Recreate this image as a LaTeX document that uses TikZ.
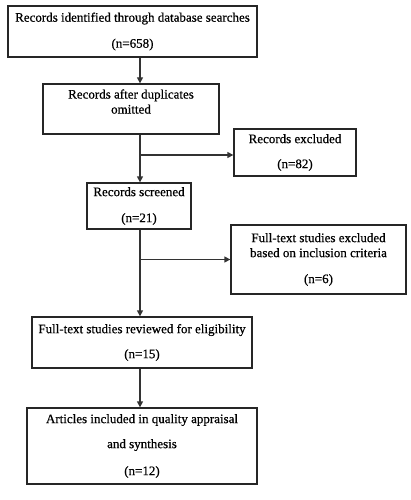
\documentclass[tikz,border=0pt]{standalone}
\usepackage{fontspec}
\setmainfont{Liberation Serif}[FakeBold=0.6]
\usetikzlibrary{arrows.meta}
\begin{document}
\begin{tikzpicture}[x=1pt,y=-1pt,
  box/.style={draw=black!85,line width=1.3pt,rectangle,align=center,inner sep=0pt,
    font=\fontsize{13}{15}\selectfont},
  arr/.style={draw=black!80,line width=1.3pt,-{Triangle[length=6pt,width=6pt]}}]
\useasboundingbox (0,0) rectangle (411,500);
\coordinate (sp) at (140,0);
\node[box,minimum width=249pt,minimum height=51pt] (b1) at (132.5,31.5) {Records identified through database searches\\[11pt](n=658)};
\node[box,minimum width=176pt,minimum height=50pt] (b2) at (131,109) {Records after duplicates\\omitted\\\mbox{}};
\node[box,minimum width=122pt,minimum height=47pt] (b4) at (295,152.5) {Records excluded\\[10pt](n=82)};
\node[box,minimum width=104pt,minimum height=46pt] (b3) at (139,206) {Records screened\\[11pt](n=21)};
\node[box,minimum width=175pt,minimum height=69pt] (b5) at (318.5,259.5) {Full-text studies excluded\\based on inclusion criteria\\[11pt](n=6)};
\node[box,minimum width=220pt,minimum height=51pt] (b6) at (142,342.5) {Full-text studies reviewed for eligibility\\[10pt](n=15)};
\node[box,minimum width=230pt,minimum height=76pt] (b7) at (142,446) {Articles included in quality appraisal\\[10pt]and synthesis\\[12pt](n=12)};
\draw[arr] (b1.south -| sp) -- (b2.north -| sp);
\draw[arr] (b2.south -| sp) -- (b3.north -| sp);
\draw[arr] (b3.south -| sp) -- (b6.north -| sp);
\draw[arr] (b6.south -| sp) -- (b7.north -| sp);
\draw[arr] (sp |- 0,155) -- (b4.west |- 0,155);
\draw[arr] (sp |- b5.west) -- (b5.west);
\end{tikzpicture}
\end{document}
